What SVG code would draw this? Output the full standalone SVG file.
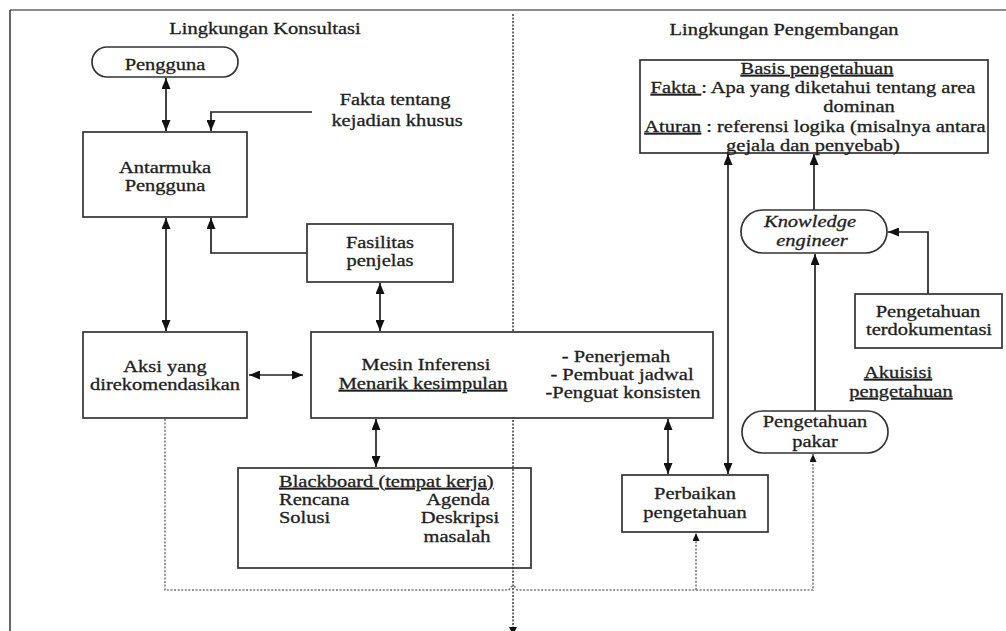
<svg xmlns="http://www.w3.org/2000/svg" width="1006" height="631" viewBox="0 0 1006 631">
<style>
.t{font-family:"Liberation Serif","Times New Roman",serif;font-size:16.5px;fill:#1e1e1e;stroke:#1e1e1e;stroke-width:0.3}
.c{text-anchor:middle}
.i{font-style:italic}
.u{text-decoration:underline}
.box{fill:#fff;stroke:#333;stroke-width:1.7}
.boxn{fill:none;stroke:#333;stroke-width:1.7}
.ln{fill:none;stroke:#222;stroke-width:1.7}
.dt{fill:none;stroke:#7a7a7a;stroke-width:1.6;stroke-dasharray:2 1.6}
</style>
<defs>
<marker id="a" viewBox="0 0 11 9" refX="11" refY="4.5" markerWidth="11" markerHeight="9" markerUnits="userSpaceOnUse" orient="auto-start-reverse">
<path d="M0,0 L11,4.5 L0,9 z" fill="#111"/>
</marker>
<marker id="s" viewBox="0 0 8 7" refX="8" refY="3.5" markerWidth="8" markerHeight="7" markerUnits="userSpaceOnUse" orient="auto-start-reverse">
<path d="M0,0 L8,3.5 L0,7 z" fill="#111"/>
</marker>
</defs>
<rect width="1006" height="631" fill="#fff"/>
<g id="frame">
<line x1="10" y1="10" x2="1006" y2="10" stroke="#8c8c8c" stroke-width="2"/>
<line x1="10" y1="10" x2="10" y2="631" stroke="#333" stroke-width="1.5"/>
<line x1="513" y1="14" x2="513" y2="630" stroke="#6a6a6a" stroke-width="2" stroke-dasharray="2 1.5"/>
<polygon points="509,627 517,627 513,635" fill="#111"/>
<text class="t c" transform="translate(265,34) scale(1.24,1)">Lingkungan Konsultasi</text>
<text class="t c" transform="translate(784,35) scale(1.24,1)">Lingkungan Pengembangan</text>
</g>
<g id="connectors">
<path class="ln" d="M166,78 V131" marker-start="url(#a)" marker-end="url(#a)"/>
<path class="ln" d="M312,112 H211 V131" marker-end="url(#a)"/>
<path class="ln" d="M166,218 V331" marker-start="url(#a)" marker-end="url(#a)"/>
<path class="ln" d="M307,253 H211 V218" marker-end="url(#a)"/>
<path class="ln" d="M380,283 V331" marker-start="url(#a)" marker-end="url(#a)"/>
<path class="ln" d="M249,375 H303" marker-start="url(#a)" marker-end="url(#a)"/>
<path class="ln" d="M376,419 V467" marker-start="url(#a)" marker-end="url(#a)"/>
<path class="ln" d="M668,419 V474" marker-start="url(#a)" marker-end="url(#a)"/>
<path class="ln" d="M728,154 V474" marker-start="url(#a)" marker-end="url(#a)"/>
<path class="ln" d="M814,210 V154" marker-end="url(#a)"/>
<path class="ln" d="M815,411 V254" marker-end="url(#a)"/>
<path class="ln" d="M928,294 V232 H888" marker-end="url(#a)"/>
<path class="dt" d="M165,419 V590 H509 Q513,582 517,590 H813 V454" marker-end="url(#s)"/>
<path class="dt" d="M696,590 V533" marker-end="url(#s)"/>
</g>
<g id="pengguna">
<rect class="box" x="92" y="47" width="146" height="30" rx="15"/>
<text class="t c" transform="translate(165,70) scale(1.24,1)">Pengguna</text>
</g>
<g id="fakta">
<text class="t c" transform="translate(395,105) scale(1.24,1)">Fakta tentang</text>
<text class="t c" transform="translate(397,126) scale(1.24,1)">kejadian khusus</text>
</g>
<g id="antarmuka">
<rect class="box" x="83" y="132" width="164" height="85"/>
<text class="t c" transform="translate(165,173) scale(1.24,1)">Antarmuka</text>
<text class="t c" transform="translate(165,191) scale(1.24,1)">Pengguna</text>
</g>
<g id="fasilitas">
<rect class="box" x="307" y="224" width="146" height="58"/>
<text class="t c" transform="translate(380,248) scale(1.24,1)">Fasilitas</text>
<text class="t c" transform="translate(380,266) scale(1.24,1)">penjelas</text>
</g>
<g id="aksi">
<rect class="box" x="83" y="332" width="164" height="86"/>
<text class="t c" transform="translate(165,372) scale(1.24,1)">Aksi yang</text>
<text class="t c" transform="translate(165,390) scale(1.24,1)">direkomendasikan</text>
</g>
<g id="mesin">
<rect class="box" x="311" y="332" width="402" height="86"/>
<text class="t c" transform="translate(426,370) scale(1.24,1)">Mesin Inferensi</text>
<text class="t c u" transform="translate(423,389) scale(1.24,1)">Menarik kesimpulan</text>
<text class="t c" transform="translate(616,362) scale(1.24,1)">- Penerjemah</text>
<text class="t c" transform="translate(622,380) scale(1.24,1)">- Pembuat jadwal</text>
<text class="t c" transform="translate(623,398) scale(1.24,1)">-Penguat konsisten</text>
</g>
<g id="blackboard">
<rect class="boxn" x="238" y="468" width="293" height="100"/>
<text class="t u" transform="translate(279,487) scale(1.24,1)">Blackboard (tempat kerja)</text>
<text class="t" transform="translate(279,505) scale(1.24,1)">Rencana</text>
<text class="t" transform="translate(279,523) scale(1.24,1)">Solusi</text>
<text class="t c" transform="translate(458,505) scale(1.24,1)">Agenda</text>
<text class="t c" transform="translate(460,523) scale(1.24,1)">Deskripsi</text>
<text class="t c" transform="translate(457,542) scale(1.24,1)">masalah</text>
</g>
<g id="basis">
<rect class="box" x="640" y="60" width="348" height="93"/>
<text class="t c u" transform="translate(817,74) scale(1.24,1)">Basis pengetahuan</text>
<text class="t c" transform="translate(813,93) scale(1.24,1)"><tspan class="u">Fakta </tspan>: Apa yang diketahui tentang area</text>
<text class="t c" transform="translate(859,112) scale(1.24,1)">dominan</text>
<text class="t c" transform="translate(815,132) scale(1.24,1)"><tspan class="u">Aturan</tspan> : referensi logika (misalnya antara</text>
<text class="t c" transform="translate(813,151) scale(1.24,1)">gejala dan penyebab)</text>
</g>
<g id="knowledge">
<rect class="box" x="741" y="210" width="146" height="43" rx="21.5"/>
<text class="t c i" transform="translate(810,227) scale(1.24,1)">Knowledge</text>
<text class="t c i" transform="translate(812,246) scale(1.24,1)">engineer</text>
</g>
<g id="terdokumentasi">
<rect class="box" x="855" y="294" width="147" height="54"/>
<text class="t c" transform="translate(928,317) scale(1.24,1)">Pengetahuan</text>
<text class="t c" transform="translate(929,335) scale(1.24,1)">terdokumentasi</text>
</g>
<g id="akuisisi">
<text class="t c u" transform="translate(898,378) scale(1.24,1)">Akuisisi</text>
<text class="t c u" transform="translate(901,397) scale(1.24,1)">pengetahuan</text>
</g>
<g id="pakar">
<rect class="box" x="742" y="411" width="146" height="42" rx="21"/>
<text class="t c" transform="translate(815,427) scale(1.24,1)">Pengetahuan</text>
<text class="t c" transform="translate(815,447) scale(1.24,1)">pakar</text>
</g>
<g id="perbaikan">
<rect class="box" x="622" y="475" width="146" height="57"/>
<text class="t c" transform="translate(695,499) scale(1.24,1)">Perbaikan</text>
<text class="t c" transform="translate(695,518) scale(1.24,1)">pengetahuan</text>
</g>
</svg>
